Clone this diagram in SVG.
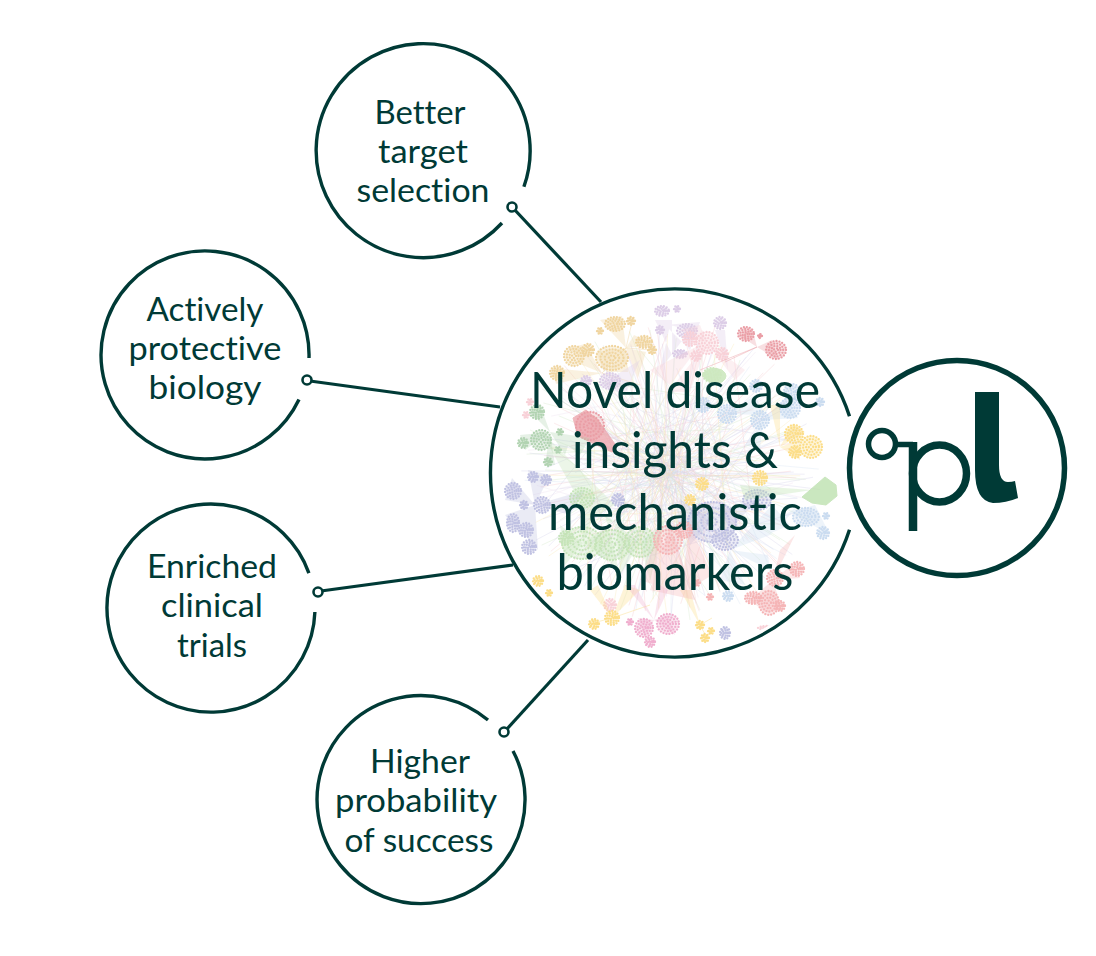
<svg xmlns="http://www.w3.org/2000/svg" xmlns:xlink="http://www.w3.org/1999/xlink" width="1096" height="956" viewBox="0 0 1096 956">
<style>
.ring{fill:none;stroke:#003a36;stroke-width:3.4;stroke-linecap:butt}
.link{fill:none;stroke:#003a36;stroke-width:3.2}
.dot{fill:#fff;stroke:#003a36;stroke-width:2.6}
.lbl{font-family:"Lato","Open Sans",sans-serif;font-size:33px;fill:#003a36;text-anchor:middle;font-variant-ligatures:none}
.big{font-family:"Lato","Open Sans",sans-serif;font-size:50px;fill:#003a36;text-anchor:middle;font-variant-ligatures:none}
.web{fill:none;stroke-width:.6;opacity:.42}
.fan{stroke:none;opacity:.32}
.fl{fill:none;stroke-width:.8;opacity:.55}
#p circle{vector-effect:non-scaling-stroke;fill:none;stroke-dasharray:0 3;stroke-linecap:round;stroke-width:2.3}
#p .c{stroke:none;fill:inherit;fill-opacity:.3;stroke-dasharray:none}
.n{opacity:.78}
.tan{stroke:#ecc985;fill:#ecc985}.pur{stroke:#d3bfe0;fill:#d3bfe0}.pnk{stroke:#f7c5cd;fill:#f7c5cd}
.red{stroke:#e5838d;fill:#e5838d}.lgr{stroke:#bfe2ae;fill:#bfe2ae}.lbu{stroke:#bcd2ec;fill:#bcd2ec}
.yel{stroke:#fbd466;fill:#fbd466}.grn{stroke:#a6d692;fill:#a6d692}.lav{stroke:#aeb0da;fill:#aeb0da}
.sal{stroke:#f3a0a2;fill:#f3a0a2}.dgr{stroke:#9cc79c;fill:#9cc79c}.mag{stroke:#ec98c0;fill:#ec98c0}
</style>
<defs>
<g id="p"><circle class="c" r="1"/><circle r="1"/><circle r=".72"/><circle r=".45"/><circle r=".2"/></g>
<path id="w" d="M560 400L780 540M545 470L800 480M590 360L740 590M650 330L690 620M720 345L620 610M780 400L565 550M610 420L760 560M600 500L790 430M640 400L700 590M690 390L650 580M570 440L730 520M620 560L770 450M660 430L720 540M600 450L700 560M560 520L740 410M640 350L760 500M700 610L600 400M740 360L680 560M530 430L700 500M810 520L640 440M590 590L680 420M750 590L640 470M620 380L640 560M720 430L730 590M580 470L660 600"/>
<clipPath id="cc"><circle cx="673" cy="473" r="180"/></clipPath>
</defs>
<g id="network" class="n" clip-path="url(#cc)">
<g class="web" style="stroke:#b9dca6"><use href="#w"/><use href="#w" transform="rotate(130 670 470)"/></g>
<g class="web" style="stroke:#f3aab0"><use href="#w" transform="rotate(22 670 470)"/><use href="#w" transform="rotate(205 670 470)"/></g>
<g class="web" style="stroke:#bdb8e2"><use href="#w" transform="rotate(70 670 470)"/><use href="#w" transform="rotate(285 670 470)"/></g>
<g class="web" style="stroke:#e6cfe8"><use href="#w" transform="rotate(110 670 470)"/></g>
<g class="web" style="stroke:#fbdf8c"><use href="#w" transform="rotate(35 670 470)"/></g>
<g class="web" style="stroke:#c2d6ee"><use href="#w" transform="rotate(340 670 470)"/></g>

<g class="tan">
<path class="fan" d="M602 373L568 348L585 344ZM602 373L552 368L556 384ZM602 373L575 362L590 352ZM626 348L600 320L622 316ZM626 348L596 352L604 372ZM626 348L634 335L655 345ZM626 348L646 352L638 378ZM626 348L606 372L628 372Z"/>
<path class="fl" d="M602 373L626 348M626 348L652 350M626 348L632 322M602 373L640 385"/>
<use href="#p" transform="translate(574 356) scale(10)"/><use href="#p" transform="translate(588 350) scale(6)"/><use href="#p" transform="translate(557 373) scale(7)"/><use href="#p" transform="translate(612 358) scale(16 12)"/><use href="#p" transform="translate(615 324) scale(10 7)"/><use href="#p" transform="translate(631 321) scale(4)"/><use href="#p" transform="translate(600 331) scale(3)"/><use href="#p" transform="translate(644 342) scale(8 6)"/><use href="#p" transform="translate(652 350) scale(4)"/>
</g>
<g class="pur">
<path class="fan" d="M672 355L655 320L672 320ZM690 350L665 325L700 322ZM660 370L690 330L670 325ZM728 370L715 330L725 330ZM600 385L640 360L625 395Z"/>
<use href="#p" transform="translate(662 311) scale(7 5)"/><use href="#p" transform="translate(677 309) scale(3)"/><use href="#p" transform="translate(660 330) scale(4)"/><use href="#p" transform="translate(687 331) scale(10 7)"/><use href="#p" transform="translate(720 323) scale(6)"/><use href="#p" transform="translate(610 381) scale(10 8)"/><use href="#p" transform="translate(586 381) scale(5)"/><use href="#p" transform="translate(680 354) scale(7 4)"/>
</g>
<g class="pnk">
<path class="fan" d="M707 343L668 392L690 392ZM707 343L745 370L735 380ZM707 343L680 330L700 325ZM650 370L700 345L670 385Z"/>
<use href="#p" transform="translate(707 343) scale(11)"/><use href="#p" transform="translate(690 339) scale(7)"/><use href="#p" transform="translate(722 354) scale(6)"/><use href="#p" transform="translate(696 356) scale(5)"/><use href="#p" transform="translate(530 402) scale(3)"/><use href="#p" transform="translate(526 415) scale(3)"/><use href="#p" transform="translate(768 628) scale(10 2)"/><use href="#p" transform="translate(610 605) scale(6)"/>
</g>
<g class="red">
<path class="fan" d="M757 347L740 336L752 328ZM757 347L772 340L778 360Z"/>
<path class="fl" d="M757 347L700 370M757 347L725 362"/>
<use href="#p" transform="translate(746 334) scale(8 7)"/><use href="#p" transform="translate(776 350) scale(10 9)"/><use href="#p" transform="translate(760 336) scale(2)"/>
<polygon points="573,418 586,410 598,420 617,447 612,452 590,442 578,436" opacity=".72"/>
<use href="#p" transform="translate(590 426) scale(14)"/>
</g>
<g class="lgr"><path d="M702 375Q710 365 722 370Q730 376 722 382Q710 386 702 375Z" opacity=".9"/><use href="#p" transform="translate(712 375) scale(9 7)"/></g>
<g class="lbu">
<path class="fan" d="M727 414L755 395L765 415ZM763 420L785 398L798 418ZM763 420L745 445L760 450ZM730 550L772 505L790 525ZM730 550L800 505L770 535ZM730 550L720 580L745 585ZM730 550L768 555L770 570ZM790 512L815 505L830 535Z"/>
<use href="#p" transform="translate(727 414) scale(9)"/><use href="#p" transform="translate(703 405) scale(7)"/><use href="#p" transform="translate(760 420) scale(9)"/><use href="#p" transform="translate(790 408) scale(10)"/><use href="#p" transform="translate(756 386) scale(6)"/><use href="#p" transform="translate(820 402) scale(4)"/><use href="#p" transform="translate(792 392) scale(8)"/><use href="#p" transform="translate(806 517) scale(13 9)"/><use href="#p" transform="translate(823 533) scale(6)"/><use href="#p" transform="translate(826 516) scale(3)"/><use href="#p" transform="translate(728 596) scale(5)"/>
</g>
<g class="yel">
<path class="fan" d="M780 447L792 424L805 432ZM780 447L800 440L800 460ZM780 447L770 405L780 405ZM612 618L640 590L625 585ZM612 618L590 590L598 585ZM700 625L680 590L690 590Z"/>
<path class="fl" d="M612 618L593 623M612 618L650 605M700 625L707 638M700 625L712 618"/>
<use href="#p" transform="translate(811 447) scale(11 11)"/><use href="#p" transform="translate(794 434) scale(9)"/><use href="#p" transform="translate(795 452) scale(6)"/><use href="#p" transform="translate(612 618) scale(7)"/><use href="#p" transform="translate(594 624) scale(5)"/><use href="#p" transform="translate(700 625) scale(4)"/><use href="#p" transform="translate(705 638) scale(4)"/><use href="#p" transform="translate(711 631) scale(3)"/><use href="#p" transform="translate(702 484) scale(6)"/><use href="#p" transform="translate(760 478) scale(7)"/><use href="#p" transform="translate(690 500) scale(5)"/><use href="#p" transform="translate(538 581) scale(5)"/><use href="#p" transform="translate(549 593) scale(3)"/>
</g>
<g class="lav">
<path class="fan" d="M535 505L512 478L505 500ZM535 505L528 470L550 475ZM535 505L505 515L520 535ZM535 505L520 530L538 550ZM535 505L585 490L570 515ZM713 520L680 500L690 545ZM757 500L720 510L730 530Z"/>
<use href="#p" transform="translate(513 491) scale(8)"/><use href="#p" transform="translate(533 477) scale(5)"/><use href="#p" transform="translate(546 480) scale(5)"/><use href="#p" transform="translate(542 505) scale(8)"/><use href="#p" transform="translate(513 523) scale(6 9)"/><use href="#p" transform="translate(526 530) scale(7)"/><use href="#p" transform="translate(529 547) scale(7)"/><use href="#p" transform="translate(524 505) scale(4)"/><use href="#p" transform="translate(712 522) scale(24 20)"/><use href="#p" transform="translate(757 500) scale(14 10)"/><use href="#p" transform="translate(725 540) scale(13 10)"/><use href="#p" transform="translate(725 633) scale(5 6)"/><use href="#p" transform="translate(618 500) scale(6)"/>
</g>
<g class="grn">
<path class="fan" d="M812 490L740 485L745 500Z"/>
<polygon points="802,497 825,477 836,485 837,496 826,505 812,503" opacity=".75"/>
<g opacity=".8"><path class="fan" d="M640 543L605 515L620 575ZM640 543L665 520L650 580ZM583 543L560 525L565 565ZM583 543L615 520L620 570ZM583 543L580 490L600 500ZM540 430L615 505L590 520Z"/>
<use href="#p" transform="translate(582 543) scale(20 16)"/><use href="#p" transform="translate(640 542) scale(15)"/><use href="#p" transform="translate(612 545) scale(17 15)"/><use href="#p" transform="translate(582 498) scale(12 10)"/><use href="#p" transform="translate(566 538) scale(7)"/></g>
</g>
<g class="sal">
<path class="fan" d="M670 525L650 590L695 600ZM660 530L640 580L670 590ZM690 525L680 595L712 575ZM773 580L792 565L800 578ZM773 580L750 600L765 612ZM773 580L765 612L782 610ZM773 580L780 550L795 535Z"/>
<use href="#p" transform="translate(668 540) scale(14)"/><use href="#p" transform="translate(684 530) scale(8)"/><use href="#p" transform="translate(797 569) scale(7)"/><use href="#p" transform="translate(769 603) scale(10 12)"/><use href="#p" transform="translate(753 598) scale(8 6)"/><use href="#p" transform="translate(780 606) scale(5)"/><use href="#p" transform="translate(775 578) scale(8)"/><use href="#p" transform="translate(710 597) scale(3)"/><use href="#p" transform="translate(697 583) scale(3)"/>
</g>
<g class="dgr">
<path class="fan" d="M550 432L530 412L540 405ZM550 432L520 435L525 450ZM550 432L570 440L565 455ZM550 432L545 465L555 465ZM550 432L590 438L580 455Z"/>
<use href="#p" transform="translate(537 412) scale(7)"/><use href="#p" transform="translate(541 440) scale(10)"/><use href="#p" transform="translate(523 443) scale(5)"/><use href="#p" transform="translate(558 450) scale(3)"/><use href="#p" transform="translate(548 462) scale(4)"/><use href="#p" transform="translate(560 432) scale(3)"/>
</g>
<g class="mag">
<path class="fan" d="M654 620L625 585L635 585ZM654 620L660 585L668 590ZM654 620L668 615L675 635ZM654 620L638 618L645 638Z"/>
<use href="#p" transform="translate(668 624) scale(11 10)"/><use href="#p" transform="translate(644 628) scale(9)"/><use href="#p" transform="translate(650 642) scale(5)"/><use href="#p" transform="translate(630 622) scale(3)"/>
</g>
</g>
<g id="connectors">
<path class="link" d="M513 208L601 302"/>
<path class="link" d="M310 381L500 407"/>
<path class="link" d="M321 591L513 565"/>
<path class="link" d="M507 729L588 640"/>
<circle class="dot" cx="512" cy="207" r="4.500"/>
<circle class="dot" cx="307" cy="380" r="4.500"/>
<circle class="dot" cx="318" cy="592" r="4.500"/>
<circle class="dot" cx="504" cy="732" r="4.500"/>
</g>
<g id="node-better"><path class="ring" d="M502 223A107 107 0 1 1 523.900 186.700"/><text class="lbl" x="420" y="124" textLength="91" lengthAdjust="spacingAndGlyphs">Better</text><text class="lbl" x="423" y="163" textLength="90" lengthAdjust="spacingAndGlyphs">target</text><text class="lbl" x="423" y="202" textLength="133" lengthAdjust="spacingAndGlyphs">selection</text></g>
<g id="node-actively"><path class="ring" d="M299 399.500A104 104 0 1 1 309 358"/><text class="lbl" x="205" y="321" textLength="117" lengthAdjust="spacingAndGlyphs">Actively</text><text class="lbl" x="205" y="360" textLength="153" lengthAdjust="spacingAndGlyphs">protective</text><text class="lbl" x="205" y="399" textLength="113" lengthAdjust="spacingAndGlyphs">biology</text></g>
<g id="node-enriched"><path class="ring" d="M314.900 612A104 104 0 1 1 308.900 573.100"/><text class="lbl" x="212" y="578" textLength="130" lengthAdjust="spacingAndGlyphs">Enriched</text><text class="lbl" x="212" y="617" textLength="102" lengthAdjust="spacingAndGlyphs">clinical</text><text class="lbl" x="212" y="657" textLength="70" lengthAdjust="spacingAndGlyphs">trials</text></g>
<g id="node-higher"><path class="ring" d="M513 751A104 104 0 1 1 488 720"/><text class="lbl" x="420" y="773" textLength="100" lengthAdjust="spacingAndGlyphs">Higher</text><text class="lbl" x="416" y="812" textLength="162" lengthAdjust="spacingAndGlyphs">probability</text><text class="lbl" x="419" y="852" textLength="149" lengthAdjust="spacingAndGlyphs">of success</text></g>
<g id="node-main"><path class="ring" d="M849.500 529.700A184 184 0 1 1 849.500 416.300"/><text class="big" x="675" y="408" textLength="290" lengthAdjust="spacingAndGlyphs">Novel disease</text><text class="big" x="675" y="468" textLength="206" lengthAdjust="spacingAndGlyphs">insights &amp;</text><text class="big" x="675" y="530" textLength="254" lengthAdjust="spacingAndGlyphs">mechanistic</text><text class="big" x="675" y="590" textLength="237" lengthAdjust="spacingAndGlyphs">biomarkers</text></g>
<g id="node-logo">
<circle cx="957" cy="468" r="107.500" fill="#fff" stroke="#003a36" stroke-width="5.500"/>
<circle cx="882" cy="444" r="13.500" fill="none" stroke="#003a36" stroke-width="5.500"/>
<path d="M895 444.500H913" fill="none" stroke="#003a36" stroke-width="5.500"/>
<path d="M913 442V531" fill="none" stroke="#003a36" stroke-width="8.500"/>
<ellipse cx="939.500" cy="473.500" rx="27" ry="28.500" fill="none" stroke="#003a36" stroke-width="7.500"/>
<path d="M975 392H999V465Q999 482 1008 482Q1012 482 1015 481L1018 498Q1006 503 993 503Q975 501 975 470Z" fill="#003a36"/>
</g>
</svg>
